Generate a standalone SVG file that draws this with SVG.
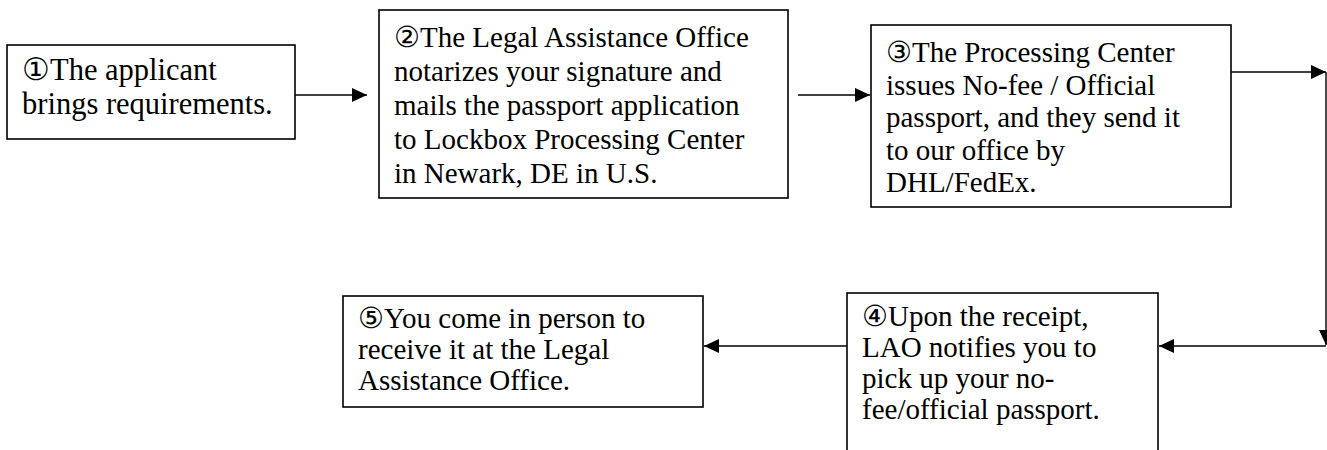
<svg xmlns="http://www.w3.org/2000/svg" width="1327" height="450" viewBox="0 0 1327 450">
<style>
.box{fill:#fff;stroke:#000;stroke-width:1.6}
.t{font-family:"Liberation Serif","Times New Roman",serif;font-size:29px;fill:#000}
.big{font-size:30.5px}
.c{fill:none;stroke:#000;stroke-width:1.4}
</style>
<defs>
<marker id="ah" markerUnits="userSpaceOnUse" markerWidth="16" markerHeight="14" refX="15" refY="7" orient="auto">
<path d="M0,0 L15,7 L0,14 Z" fill="#000"/>
</marker>
</defs>
<rect width="1327" height="450" fill="#fff"/>
<g id="connectors">
<line class="c" x1="295" y1="95" x2="367" y2="95" marker-end="url(#ah)"/>
<line class="c" x1="798" y1="95" x2="870" y2="95" marker-end="url(#ah)"/>
<line class="c" x1="1231" y1="72" x2="1326" y2="72" marker-end="url(#ah)"/>
<line class="c" x1="1326" y1="72" x2="1326" y2="345" marker-end="url(#ah)"/>
<line class="c" x1="1326" y1="346" x2="1159" y2="346" marker-end="url(#ah)"/>
<line class="c" x1="847" y1="346" x2="704" y2="346" marker-end="url(#ah)"/>
</g>
<g id="n1">
<rect class="box" x="7" y="45" width="288" height="94"/>
<text class="t big" x="22" y="80">①The applicant</text>
<text class="t big" x="22" y="114">brings requirements.</text>
</g>
<g id="n2">
<rect class="box" x="379" y="10" width="409" height="188"/>
<text class="t" x="394" y="47">②The Legal Assistance Office</text>
<text class="t" x="394" y="81">notarizes your signature and</text>
<text class="t" x="394" y="115">mails the passport application</text>
<text class="t" x="394" y="149">to Lockbox Processing Center</text>
<text class="t" x="394" y="183">in Newark, DE in U.S.</text>
</g>
<g id="n3">
<rect class="box" x="871" y="25" width="360" height="182"/>
<text class="t" x="886" y="62">③The Processing Center</text>
<text class="t" x="886" y="94.5">issues No-fee / Official</text>
<text class="t" x="886" y="127">passport, and they send it</text>
<text class="t" x="886" y="159.5">to our office by</text>
<text class="t" x="886" y="192">DHL/FedEx.</text>
</g>
<g id="n4">
<rect class="box" x="847" y="293" width="311" height="180"/>
<text class="t" x="862" y="326">④Upon the receipt,</text>
<text class="t" x="862" y="357">LAO notifies you to</text>
<text class="t" x="862" y="388">pick up your no-</text>
<text class="t" x="862" y="419">fee/official passport.</text>
</g>
<g id="n5">
<rect class="box" x="343" y="296" width="360" height="111"/>
<text class="t" x="358" y="328">⑤You come in person to</text>
<text class="t" x="358" y="359">receive it at the Legal</text>
<text class="t" x="358" y="390">Assistance Office.</text>
</g>
</svg>
